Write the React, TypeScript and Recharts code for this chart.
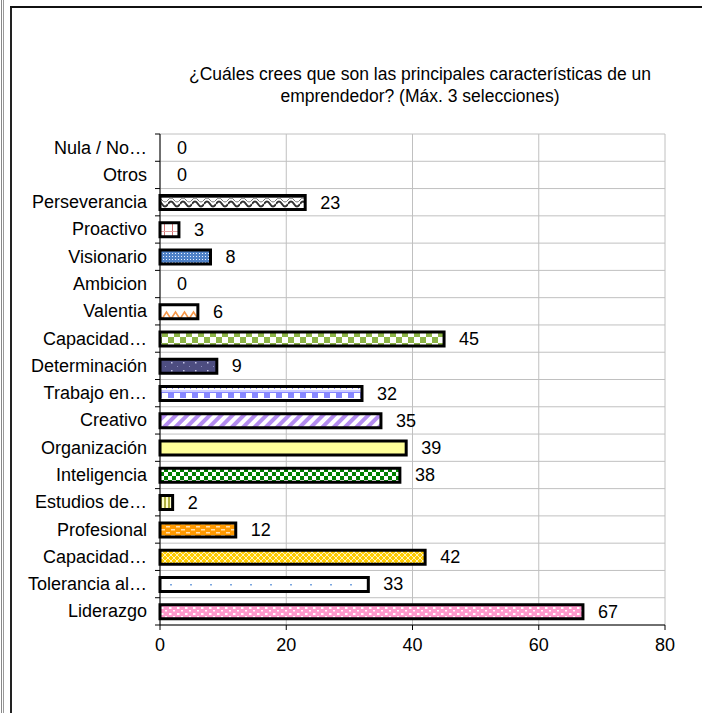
import React from 'react';
import { BarChart, Bar, XAxis, YAxis, CartesianGrid, LabelList, Cell } from 'recharts';

const categories = [
  'Nula / No…', 'Otros', 'Perseverancia', 'Proactivo', 'Visionario', 'Ambicion',
  'Valentia', 'Capacidad…', 'Determinación', 'Trabajo en…', 'Creativo', 'Organización',
  'Inteligencia', 'Estudios de…', 'Profesional', 'Capacidad…', 'Tolerancia al…', 'Liderazgo',
];
const values = [0, 0, 23, 3, 8, 0, 6, 45, 9, 32, 35, 39, 38, 2, 12, 42, 33, 67];
const fills = [
  'pNula', 'pOtros', 'pPers', 'pProa', 'pVis', 'pAmb', 'pVal', 'pCap1', 'pDet',
  'pTrab', 'pCrea', 'pOrg', 'pInt', 'pEst', 'pProf', 'pCap2', 'pTol', 'pLid',
];
const xTicks = [0, 20, 40, 60, 80];

const data = categories.map((name, i) => ({ name, value: values[i], fill: fills[i] }));

const W = 702;
const H = 713;
const TOP = 134;
const BOTTOM = 58;
const X_AXIS_H = 30;
const AXIS_W = 160;
const RIGHT = 37;
const FONT = '"Liberation Sans", Arial, sans-serif';
const FS = 18;

// category labels, boundary tick marks, and the "0" labels (zero-width bars get no LabelList entry)
const CategoryTick = (props: any) => {
  const { x, y, payload, index } = props;
  const band = (H - TOP - BOTTOM - X_AXIS_H) / categories.length;
  return (
    <g>
      <line x1={x} x2={x + 5} y1={y - band / 2} y2={y - band / 2} stroke="#000" />
      {index === categories.length - 1 && (
        <line x1={x} x2={x + 5} y1={y + band / 2} y2={y + band / 2} stroke="#000" />
      )}
      <text x={x - 8} y={y} dy={6} textAnchor="end" fill="#000" fontSize={FS} fontFamily={FONT}>
        {payload.value}
      </text>
      {values[index] === 0 && (
        <text x={x + 5 + 17} y={y} dy={6} fill="#000" fontSize={FS} fontFamily={FONT}>
          {values[index]}
        </text>
      )}
    </g>
  );
};

const ValueLabel = (props: any) => {
  const { x, y, width, height, value } = props;
  return (
    <text x={x + width + 15} y={y + height / 2} dy={6} fill="#000" fontSize={FS} fontFamily={FONT}>
      {value}
    </text>
  );
};

export default function App() {
  return (
    <div style={{ position: 'absolute', left: 0, top: 0, width: W, height: H, background: '#fff', fontFamily: FONT }}>
      <div style={{ position: 'absolute', left: 1, top: 0, width: 1, height: H, background: '#888' }} />
      <div style={{ position: 'absolute', left: 3, top: 0, width: 1, height: H, background: '#999' }} />
      <div style={{ position: 'absolute', left: 10, top: 6, width: 2, height: H - 6, background: '#222' }} />
      <div style={{ position: 'absolute', left: 10, top: 6, width: W - 10, height: 2, background: '#111' }} />
      <div
        style={{
          position: 'absolute', left: 120, top: 63, width: 600, textAlign: 'center',
          fontSize: 17.5, lineHeight: '22px', color: '#000',
        }}
      >
        ¿Cuáles crees que son las principales características de un
        <br />
        emprendedor? (Máx. 3 selecciones)
      </div>
      <div style={{ position: 'absolute', left: 0, top: 0 }}>
        <BarChart
          width={W}
          height={H}
          data={data}
          layout="vertical"
          margin={{ top: TOP, right: RIGHT, bottom: BOTTOM, left: 0 }}
          barSize={14}
        >
          <defs>
            <pattern id="pPers" width="12" height="14" patternUnits="userSpaceOnUse">
              <rect width="12" height="14" fill="#fff" />
              <rect width="12" height="2" fill="#555" />
              <path d="M0 8 Q3 3 6 8 T12 8" stroke="#333" strokeWidth="2" fill="none" />
              <path d="M0 4 Q3 0 6 4 T12 4" stroke="#777" strokeWidth="1" fill="none" />
            </pattern>
            <pattern id="pProa" width="8" height="14" patternUnits="userSpaceOnUse">
              <rect width="8" height="14" fill="#fff" />
              <rect x="4" width="1" height="14" fill="#d07070" />
              <rect y="7" width="8" height="1" fill="#e0a0a0" />
            </pattern>
            <pattern id="pVis" width="3" height="3" patternUnits="userSpaceOnUse">
              <rect width="3" height="3" fill="#4f81c7" />
              <rect x="1" y="1" width="1" height="1" fill="#e8f0ff" />
            </pattern>
            <pattern id="pVal" width="9" height="14" patternUnits="userSpaceOnUse">
              <rect width="9" height="14" fill="#fff" />
              <path d="M0 11 L4.5 4 L9 11" stroke="#f79646" strokeWidth="1.5" fill="none" />
            </pattern>
            <pattern id="pCap1" width="12" height="12" patternUnits="userSpaceOnUse" y="1">
              <rect width="12" height="12" fill="#fff" />
              <rect width="6" height="6" fill="#8cb446" />
              <rect x="6" y="6" width="6" height="6" fill="#8cb446" />
            </pattern>
            <pattern id="pDet" width="12" height="8" patternUnits="userSpaceOnUse">
              <rect width="12" height="8" fill="#4d4d80" />
              <rect x="3" y="2" width="1.5" height="1.5" fill="#c8c8e8" />
              <rect x="9" y="6" width="1" height="1" fill="#9090c0" />
            </pattern>
            <pattern id="pTrab" width="12" height="14" patternUnits="userSpaceOnUse">
              <rect width="12" height="14" fill="#fff" />
              <rect width="6" height="6" fill="#8888ff" />
              <rect x="6" y="0" width="6" height="1" fill="#8888ff" />
              <rect x="1" y="9" width="1" height="1" fill="#8888ff" />
              <rect x="4" y="10" width="1" height="1" fill="#8888ff" />
              <rect x="7" y="9" width="1" height="1" fill="#8888ff" />
              <rect x="10" y="10" width="1" height="1" fill="#8888ff" />
              <rect y="12" width="12" height="2" fill="#ccccff" />
            </pattern>
            <pattern id="pCrea" width="8" height="8" patternUnits="userSpaceOnUse" patternTransform="rotate(45)">
              <rect width="8" height="8" fill="#fff" />
              <rect width="4" height="8" fill="#b48cf0" />
            </pattern>
            <pattern id="pOrg" width="4" height="4" patternUnits="userSpaceOnUse">
              <rect width="4" height="4" fill="#ffff99" />
            </pattern>
            <pattern id="pInt" width="8" height="8" patternUnits="userSpaceOnUse">
              <rect width="8" height="8" fill="#fff" />
              <rect width="4" height="4" fill="#008000" />
              <rect x="4" y="4" width="4" height="4" fill="#008000" />
            </pattern>
            <pattern id="pEst" width="4" height="4" patternUnits="userSpaceOnUse">
              <rect width="4" height="4" fill="#ffffcc" />
              <rect width="2" height="4" fill="#b0b040" />
            </pattern>
            <pattern id="pProf" width="10" height="6" patternUnits="userSpaceOnUse">
              <rect width="10" height="6" fill="#ff9900" />
              <rect x="1" y="1" width="4" height="1.5" fill="#ffe0b0" />
              <rect x="6" y="4" width="4" height="1.5" fill="#ffe0b0" />
            </pattern>
            <pattern id="pCap2" width="6" height="6" patternUnits="userSpaceOnUse">
              <rect width="6" height="6" fill="#ffcc00" />
              <path d="M0 0 L6 6 M6 0 L0 6" stroke="#fff5c0" strokeWidth="1" />
            </pattern>
            <pattern id="pTol" width="20" height="14" patternUnits="userSpaceOnUse">
              <rect width="20" height="14" fill="#fff" />
              <rect x="10" y="10" width="2" height="1.5" fill="#7aa6e0" />
            </pattern>
            <pattern id="pLid" width="8" height="6" patternUnits="userSpaceOnUse">
              <rect width="8" height="6" fill="#ff99cc" />
              <rect x="1" y="1" width="2.5" height="2" fill="#fff" />
              <rect x="5" y="4" width="2" height="1.5" fill="#fff" />
            </pattern>
          </defs>
          <CartesianGrid
            stroke="#c0c0c0"
            horizontalCoordinatesGenerator={({ offset }: any) =>
              Array.from({ length: categories.length + 1 }, (_, i) => offset.top + (i * offset.height) / categories.length)
            }
          />
          <XAxis
            type="number"
            domain={[0, 80]}
            ticks={xTicks}
            interval={0}
            height={X_AXIS_H}
            stroke="#000"
            tickSize={5}
            tickMargin={8}
            tick={{ fill: '#000', fontSize: FS, fontFamily: FONT }}
          />
          <YAxis
            type="category"
            dataKey="name"
            width={AXIS_W}
            stroke="#000"
            tickLine={false}
            tickSize={5}
            tickMargin={0}
            interval={0}
            tick={<CategoryTick />}
          />
          <Bar dataKey="value" stroke="#000" strokeWidth={3} isAnimationActive={false}>
            {data.map((d, i) => (
              <Cell key={i} fill={`url(#${d.fill})`} stroke={d.value > 0 ? '#000' : 'none'} />
            ))}
            <LabelList dataKey="value" content={<ValueLabel />} />
          </Bar>
        </BarChart>
      </div>
    </div>
  );
}
